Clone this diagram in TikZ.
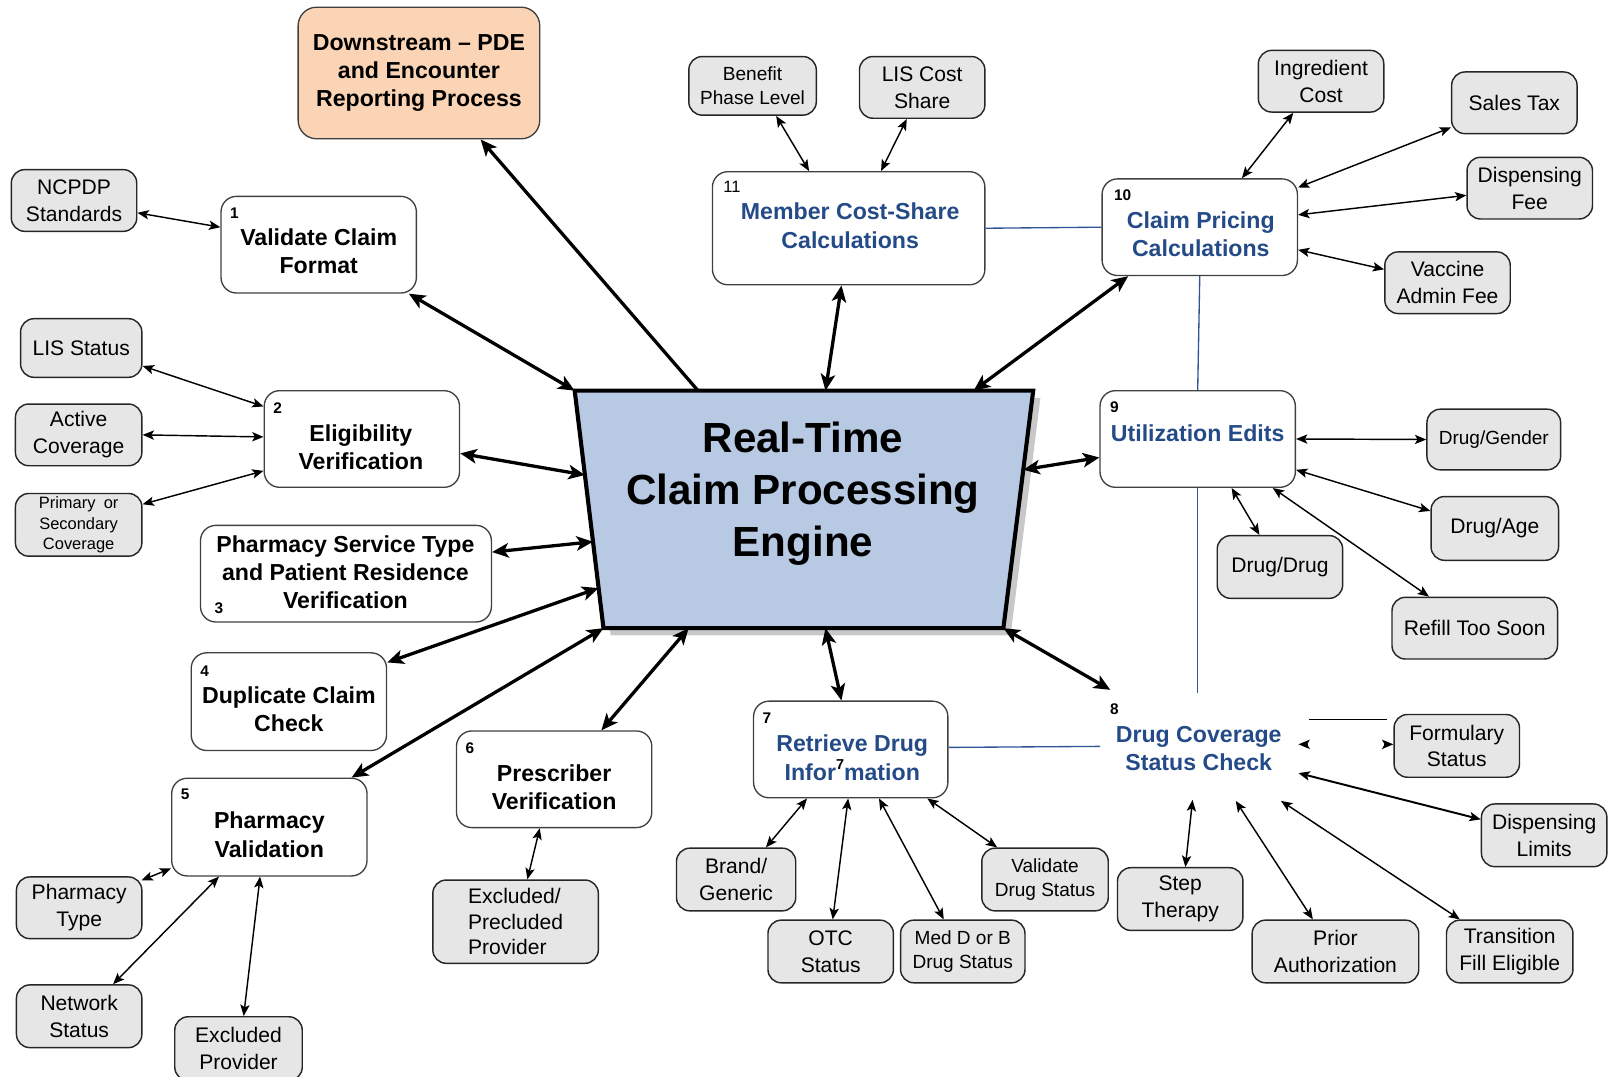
\documentclass[tikz,border=0pt]{standalone}
\usepackage{fontspec}
\setmainfont{Liberation Sans}
\usetikzlibrary{arrows.meta,calc}
\definecolor{boxgray}{RGB}{230,230,230}
\definecolor{peach}{RGB}{250,212,181}
\definecolor{engblue}{RGB}{184,201,227}
\definecolor{dblue}{RGB}{36,75,135}
\definecolor{lblue}{RGB}{47,85,151}
\definecolor{shadowgray}{RGB}{200,200,200}
\begin{document}
\begin{tikzpicture}[x=1pt,y=-1pt,
  mainbox/.style={draw=black!75, line width=1.3pt, rounded corners=15pt, fill=white, inner sep=0pt},
  graybox/.style={draw=black!85, line width=1.4pt, rounded corners=13pt, fill=boxgray, align=center, inner sep=0pt, font=\fontsize{20.5}{26}\selectfont},
  graysmall/.style={graybox, font=\fontsize{18.5}{24}\selectfont},
  maintxt/.style={align=center, inner sep=0pt, font=\fontsize{22.5}{27.5}\selectfont\bfseries},
  bluetxt/.style={maintxt, text=dblue},
  num/.style={inner sep=0pt, font=\fontsize{15}{15}\selectfont\bfseries},
  bigarrow/.style={line width=3.2pt, {Stealth[length=16pt,width=14pt,inset=4pt]}-{Stealth[length=16pt,width=14pt,inset=4pt]}},
  bigone/.style={line width=3.2pt, -{Stealth[length=16pt,width=14pt,inset=4pt]}},
  smallarrow/.style={line width=1.4pt, {Stealth[length=11pt,width=9pt,inset=2.5pt]}-{Stealth[length=11pt,width=9pt,inset=2.5pt]}},
  smallhead/.style={line width=1.4pt, -{Stealth[length=11pt,width=9pt,inset=2.5pt]}},
  blueline/.style={draw=lblue, line width=1.3pt}
]
\useasboundingbox (0,0) rectangle (1568,1047);

% ---------- engine ----------
\coordinate (eTL) at (559,380);
\coordinate (eTR) at (1005,380);
\coordinate (eBR) at (976,611);
\coordinate (eBL) at (587,611);
\fill[shadowgray] ([shift={(7,7)}]eTL) -- ([shift={(7,7)}]eTR) -- ([shift={(7,7)}]eBR) -- ([shift={(7,7)}]eBL) -- cycle;
\filldraw[fill=engblue, draw=black, line width=4pt, line join=miter] (eTL) -- (eTR) -- (eBR) -- (eBL) -- cycle;
\node[align=center, inner sep=0pt, font=\fontsize{41}{50.5}\selectfont\bfseries] (eng) at (781,480) {Real-Time\\Claim Processing\\Engine};

\coordinate (eDS) at ($(eTL)!0.269!(eTR)$);
\coordinate (eE2) at ($(eTL)!0.355!(eBL)$);
\coordinate (eE3) at ($(eTL)!0.636!(eBL)$);
\coordinate (eE4) at ($(eTL)!0.831!(eBL)$);
\coordinate (eE6) at ($(eBL)!0.213!(eBR)$);
\coordinate (eE7) at ($(eBL)!0.555!(eBR)$);
\coordinate (eE9) at ($(eTR)!0.333!(eBR)$);
\coordinate (eE10) at ($(eTL)!0.870!(eTR)$);
\coordinate (eE11) at ($(eTL)!0.547!(eTR)$);

% ---------- downstream ----------
\node[draw=black!75, line width=1.3pt, rounded corners=18pt, fill=peach, inner sep=0pt,
      minimum width=235pt, minimum height=128pt, align=center,
      font=\fontsize{22.5}{27.5}\selectfont\bfseries] (ds) at (407.5,71)
      {Downstream -- PDE\\and Encounter\\Reporting Process};

% ---------- main boxes ----------
\node[mainbox, minimum width=190pt, minimum height=94pt] (b1) at (310,238) {};
\node[maintxt] (t1) at (310,244.5) {Validate Claim\\Format};
\node[num] (n1) at (228,207) {1};

\node[mainbox, minimum width=190pt, minimum height=94pt] (b2) at (352,427) {};
\node[maintxt] (t2) at (351,435) {Eligibility\\Verification};
\node[num] (n2) at (270,397) {2};

\node[mainbox, minimum width=283pt, minimum height=94pt] (b3) at (336.5,558) {};
\node[maintxt] (t3) at (336,556.5) {Pharmacy Service Type\\and Patient Residence\\Verification};
\node[num] (n3) at (213,592) {3};

\node[mainbox, minimum width=190pt, minimum height=95pt] (b4) at (281,682.5) {};
\node[maintxt] (t4) at (281,690) {Duplicate Claim\\Check};
\node[num] (n4) at (199,653) {4};

\node[mainbox, minimum width=190pt, minimum height=95pt] (b5) at (262,804.5) {};
\node[maintxt] (t5) at (262,812) {Pharmacy\\Validation};
\node[num] (n5) at (180,773) {5};

\node[mainbox, minimum width=190pt, minimum height=94pt] (b6) at (539,758) {};
\node[maintxt] (t6) at (539,766) {Prescriber\\Verification};
\node[num] (n6) at (457,728) {6};

\node[mainbox, minimum width=189pt, minimum height=94pt] (b7) at (827.5,729) {};
\node[bluetxt] (t7) at (829,737) {Retrieve Drug\\Infor\raisebox{10pt}{\textcolor{black}{\fontsize{14}{14}\selectfont 7}}mation};
\node[num] (n7) at (746,699) {7};

\node[bluetxt] (dcs) at (1166,728) {Drug Coverage\\Status Check};
\node[num] (n8) at (1084,690) {8};

\node[mainbox, minimum width=190pt, minimum height=94pt] (b9) at (1165,427) {};
\node[bluetxt] (t9) at (1165,421) {Utilization Edits};
\node[num] (n9) at (1084,396) {9};

\node[mainbox, minimum width=190pt, minimum height=94pt] (b10) at (1167,221) {};
\node[bluetxt] (t10) at (1168,227.5) {Claim Pricing\\Calculations};
\node[num] (n10) at (1092,190) {10};

\node[mainbox, minimum width=265pt, minimum height=110pt] (b11) at (825.5,222) {};
\node[bluetxt] (t11) at (827,219.5) {Member Cost-Share\\Calculations};
\node[inner sep=0pt, font=\fontsize{16}{16}\selectfont] (n11) at (712,182) {11};

% ---------- gray boxes ----------
\node[graybox, minimum width=122pt, minimum height=60pt] (ncpdp) at (72,195) {NCPDP\\Standards};
\node[graybox, minimum width=118pt, minimum height=57pt] (lis) at (79,338.5) {LIS Status};
\node[graybox, minimum width=123pt, minimum height=60pt] (active) at (76.5,423) {Active\\Coverage};
\node[graybox, minimum width=123pt, minimum height=61pt, font=\fontsize{16}{20}\selectfont] (primary) at (76.5,510.5) {Primary\enspace or\\Secondary\\Coverage};
\node[graybox, minimum width=122pt, minimum height=60pt] (ptype) at (77,883) {Pharmacy\\Type};
\node[graybox, minimum width=122pt, minimum height=61pt] (netstat) at (77,988.5) {Network\\Status};
\node[graybox, minimum width=124pt, minimum height=62pt] (exprov) at (232,1020) {Excluded\\Provider};
\node[graybox, minimum width=161pt, minimum height=81pt, align=left, font=\fontsize{20.5}{25}\selectfont] (expre) at (501.5,896.5) {Excluded/\\Precluded\\Provider};
\node[graybox, minimum width=116pt, minimum height=61pt] (brand) at (716,855.5) {Brand/\\Generic};
\node[graybox, minimum width=122pt, minimum height=61pt] (otc) at (808,925.5) {OTC\\Status};
\node[graysmall, minimum width=121pt, minimum height=61pt] (medd) at (936.5,925.5) {Med D or B\\Drug Status};
\node[graysmall, minimum width=123pt, minimum height=61pt] (valid) at (1016.5,855.5) {Validate\\Drug Status};
\node[graybox, minimum width=122pt, minimum height=61pt] (form) at (1417,725.5) {Formulary\\Status};
\node[graybox, minimum width=122pt, minimum height=61pt] (dlim) at (1502,812.5) {Dispensing\\Limits};
\node[graybox, minimum width=122pt, minimum height=61pt] (step) at (1148,874.5) {Step\\Therapy};
\node[graybox, minimum width=162pt, minimum height=61pt] (prior) at (1299,925.5) {Prior\\Authorization};
\node[graybox, minimum width=123pt, minimum height=61pt] (trans) at (1468.5,925.5) {Transition\\Fill Eligible};
\node[graysmall, minimum width=130pt, minimum height=59pt] (dgen) at (1453,427.5) {Drug/Gender};
\node[graybox, minimum width=124pt, minimum height=62pt] (dage) at (1454,514) {Drug/Age};
\node[graybox, minimum width=122pt, minimum height=61pt] (ddrug) at (1245,551.5) {Drug/Drug};
\node[graybox, minimum width=161pt, minimum height=60pt] (refill) at (1434.5,611) {Refill Too Soon};
\node[graybox, minimum width=122pt, minimum height=60pt] (ingr) at (1285,79) {Ingredient\\Cost};
\node[graybox, minimum width=122pt, minimum height=60pt] (stax) at (1473,100) {Sales Tax};
\node[graybox, minimum width=122pt, minimum height=60pt] (dfee) at (1488,183) {Dispensing\\Fee};
\node[graybox, minimum width=122pt, minimum height=60pt] (vacc) at (1408,275) {Vaccine\\Admin Fee};
\node[graysmall, minimum width=124pt, minimum height=57pt, font=\fontsize{18.5}{23}\selectfont] (benefit) at (732,83.5) {Benefit\\Phase Level};
\node[graybox, minimum width=122pt, minimum height=60pt] (liscs) at (897,85) {LIS Cost\\Share};

% ---------- free-end coordinates near Drug Coverage Status Check ----------
\coordinate (d8) at (1080,671);
\coordinate (dTop) at (1165,674);
\coordinate (dBlue) at (1070,726);
\coordinate (dStep) at (1160,778);
\coordinate (dPrior) at (1202,779);
\coordinate (dTrans) at (1246,779);
\coordinate (dLim) at (1263,752);
\coordinate (dFormL) at (1263,724);
\coordinate (dFormL2) at (1272,724);
\coordinate (fL) at (1273,700);
\coordinate (fR) at (1349,700);

% ---------- blue lines ----------
\draw[blueline] (b11.east) -- (b10.west);
\draw[blueline] (b10.south) -- (b9.north);
\draw[blueline] (b9.south) -- (dTop);
\draw[blueline] ([yshift=2pt]b7.east) -- (dBlue);

% ---------- thick connectors ----------
\draw[bigone] (eDS) -- ([xshift=60pt]ds.south);
\draw[bigarrow] (eTL) -- ([xshift=-8pt]b1.south east);
\draw[bigarrow] (eE2) -- ([yshift=-14pt]b2.east);
\draw[bigarrow] (eE3) -- ([yshift=21pt]b3.east);
\draw[bigarrow] (eE4) -- ([yshift=-10pt]b4.north east);
\draw[bigarrow] (eBL) -- ([xshift=80pt]b5.north);
\draw[bigarrow] (eE6) -- ([xshift=46pt]b6.north);
\draw[bigarrow] (eE7) -- ([xshift=-9pt]b7.north);
\draw[bigarrow] (eBR) -- (d8);
\draw[bigarrow] (eE9) -- ([yshift=-18pt]b9.west);
\draw[bigarrow] (eE10) -- ([xshift=26pt]b10.south west);
\draw[bigarrow] (eE11) -- ([xshift=-7pt]b11.south);

% ---------- thin connectors ----------
\draw[smallarrow] ([yshift=-12pt]ncpdp.east) -- ([yshift=17pt]b1.west);
\draw[smallarrow] ([yshift=-17.5pt]lis.east) -- ([yshift=-16pt]b2.north west);
\draw[smallarrow] (active.east) -- ([yshift=2pt]b2.west);
\draw[smallarrow] ([yshift=20pt]primary.east) -- ([yshift=-31pt]b2.west);
\draw[smallarrow] ([xshift=-1pt,yshift=-4pt]ptype.north east) -- ([yshift=8pt]b5.south west);
\draw[smallarrow] ([xshift=33pt]netstat.north) -- ([xshift=-49pt]b5.south);
\draw[smallarrow] ([xshift=5pt]exprov.north) -- ([xshift=-9pt]b5.south);
\draw[smallarrow] ([xshift=11.5pt]expre.north) -- ([xshift=-14pt]b6.south);
\draw[smallarrow] ([xshift=29pt]brand.north) -- ([xshift=-42.5pt]b7.south);
\draw[smallarrow] ([xshift=2pt]otc.north) -- ([xshift=-2.5pt]b7.south);
\draw[smallarrow] ([xshift=-18.5pt]medd.north) -- ([xshift=27.5pt]b7.south);
\draw[smallarrow] ([xshift=-46.5pt]valid.north) -- ([xshift=74.5pt]b7.south);
\draw[smallarrow] ([xshift=5pt]step.north) -- (dStep);
\draw[smallarrow] ([xshift=-22pt]prior.north) -- (dPrior);
\draw[smallarrow] ([xshift=-48.5pt]trans.north) -- (dTrans);
\draw[smallarrow, line width=1.9pt] ([yshift=15.5pt]dlim.west) -- (dLim);
\draw[line width=1.4pt] (fL) -- (fR);
\draw[smallhead] (dFormL2) -- (dFormL);
\draw[smallhead] ([xshift=-9pt,yshift=1.5pt]form.west) -- ([yshift=1.5pt]form.west);
\draw[smallarrow] ([xshift=-20pt]ddrug.north) -- ([xshift=33pt]b9.south);
\draw[smallarrow] ([xshift=-44.5pt]refill.north) -- ([xshift=73pt]b9.south);
\draw[smallarrow] ([yshift=17pt]dage.west) -- ([yshift=-30pt]b9.east);
\draw[smallarrow] (dgen.west) -- (b9.east);
\draw[smallarrow] ([xshift=-27pt]ingr.south) -- ([xshift=41pt]b10.north);
\draw[smallarrow] ([yshift=-24pt]stax.west) -- ([yshift=-9pt]b10.north east);
\draw[smallarrow] ([yshift=-7pt]dfee.west) -- ([yshift=12pt]b10.east);
\draw[smallarrow] ([yshift=13pt]vacc.west) -- ([yshift=-22pt]b10.east);
\draw[smallarrow] ([xshift=23pt]benefit.south) -- ([xshift=-38.5pt]b11.north);
\draw[smallarrow] ([xshift=-15pt]liscs.south) -- ([xshift=31.5pt]b11.north);
\end{tikzpicture}
\end{document}
